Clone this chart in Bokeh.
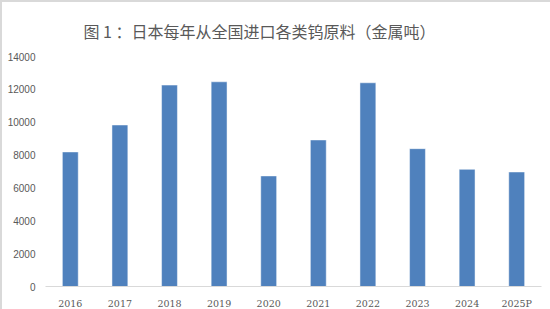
from bokeh.plotting import figure
from bokeh.models import Title
from bokeh.embed import file_html
from bokeh.resources import INLINE

years = ["2016", "2017", "2018", "2019", "2020", "2021", "2022", "2023", "2024", "2025P"]
imports_t = [8190, 9830, 12260, 12460, 6730, 8920, 12400, 8390, 7130, 6970]
title_text = "图 1 ：日本每年从全国进口各类钨原料（金属吨）"

p = figure(
    width=550, height=309, x_range=years, y_range=(0, 14000),
    output_backend="svg", toolbar_location=None,
    min_border_left=43, min_border_right=11, min_border_top=54, min_border_bottom=22,
    background_fill_color="white", border_fill_color="white",
)
p.title = Title(text=title_text, text_font="Noto Sans CJK SC", text_font_size="16px",
                text_color="#595959", text_font_style="normal", align="left",
                offset=38, standoff=28)
p.outline_line_color = None

p.vbar(x=years, top=imports_t, width=0.32, fill_color="#4f81bd",
       line_color="#ffffff", line_width=0.8, line_alpha=0.6)

p.xgrid.grid_line_color = None
p.ygrid.grid_line_color = None

p.xaxis.axis_line_color = "#d9d9d9"
p.xaxis.axis_line_width = 1
p.xaxis.major_tick_line_color = None
p.xaxis.minor_tick_line_color = None
p.xaxis.major_label_text_font = "DejaVu Serif"
p.xaxis.major_label_text_font_size = "9.5px"
p.xaxis.major_label_text_color = "#595959"
p.xaxis.major_label_standoff = 5

p.yaxis.axis_line_color = None
p.yaxis.major_tick_line_color = None
p.yaxis.minor_tick_line_color = None
p.yaxis.ticker = list(range(0, 14001, 2000))
p.yaxis.major_label_text_font = "Liberation Sans"
p.yaxis.major_label_text_font_size = "10px"
p.yaxis.major_label_text_color = "#595959"
p.yaxis.major_label_standoff = 4

p.styles = {"border-top": "2px solid #d9d9d9", "border-left": "2px solid #d9d9d9",
            "box-sizing": "border-box"}

open("out.html", "w").write(file_html(p, INLINE))
